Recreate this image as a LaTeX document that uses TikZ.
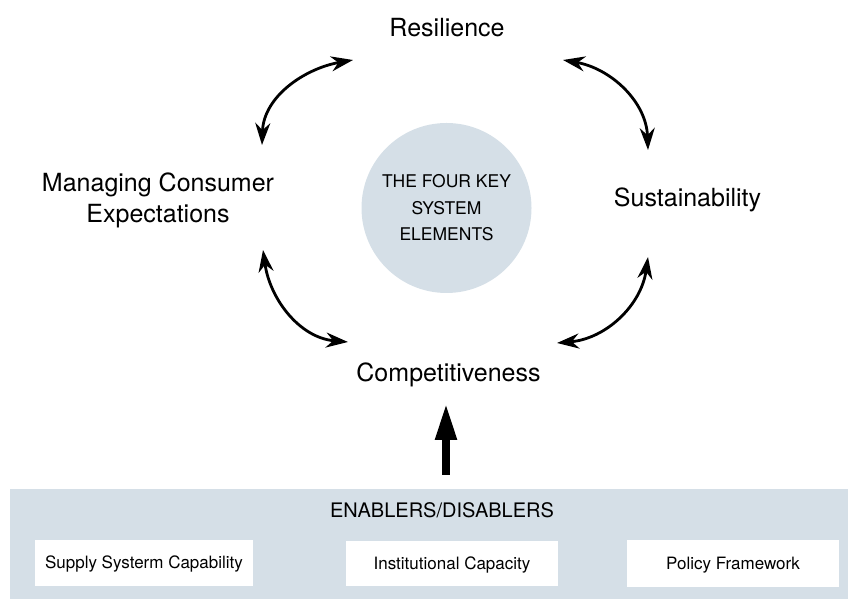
\documentclass[tikz,border=0pt]{standalone}
\usepackage{fontspec}
\setmainfont{TeX Gyre Heros}
\usepackage{tikz}
\usetikzlibrary{arrows.meta}
\definecolor{paleblue}{RGB}{213,223,231}

\begin{document}
\begin{tikzpicture}[x=1pt,y=1pt]
					\tikzstyle{element}=[inner sep=0pt,font=\fontsize{25}{31}\selectfont,align=center,anchor=base]
					\tikzstyle{core}=[circle,fill=paleblue,minimum size=170pt,inner sep=0pt,align=center,font=\fontsize{17.5}{26.5}\selectfont]
					\tikzstyle{factor}=[rectangle,fill=white,inner sep=0pt,text height=12pt,text depth=0pt,font=\fontsize{17}{20}\selectfont]
					\tikzstyle{twoway}=[{Stealth[length=22pt,width=15pt]}-{Stealth[length=22pt,width=15pt]},line width=2.8pt]
					\tikzstyle{push}=[-{Triangle[length=37pt,width=20pt]},line width=8pt]
					\useasboundingbox (0,0) rectangle (848,599);
					\node[rectangle,fill=paleblue,minimum width=838pt,minimum height=110pt,inner sep=0pt] (band) at (429,55) {};
					\node[element] (res) at (447,562) {Resilience};
					\node[element] (sus) at (687.5,392) {Sustainability};
					\node[element] (mce) at (158,376) {Managing Consumer\\Expectations};
					\node[element] (com) at (448.5,217) {Competitiveness};
					\node[core] (core) at (446.5,391) {THE FOUR KEY\\SYSTEM\\ELEMENTS};
					\node[element,font=\fontsize{20}{24}\selectfont] (enab) at (442,81) {ENABLERS/DISABLERS};
					\node[factor,minimum width=218pt,minimum height=46pt] (f1) at (144,36) {Supply Systerm Capability};
					\node[factor,minimum width=212pt,minimum height=45pt] (f2) at (452,35.5) {Institutional Capacity};
					\node[factor,minimum width=212pt,minimum height=47pt] (f3) at (733,35.5) {Policy Framework};
					\coordinate (a1) at (262,454);
					\coordinate (a2) at (353,539);
					\coordinate (a3) at (563,539);
					\coordinate (a4) at (648,449);
					\coordinate (a5) at (263,349);
					\coordinate (a6) at (348,257);
					\coordinate (a7) at (648,342);
					\coordinate (a8) at (557,256);
					\coordinate (p1) at (446,124);
					\coordinate (p2) at (446,196);
					\draw[twoway] (a1) to[out=88,in=190] (a2);
					\draw[twoway] (a3) to[out=-10,in=92] (a4);
					\draw[twoway] (a5) to[out=-82,in=175] (a6);
					\draw[twoway] (a7) to[out=-98,in=5] (a8);
					\draw[push] (p1) -- (p2);
					\end{tikzpicture}
\end{document}
